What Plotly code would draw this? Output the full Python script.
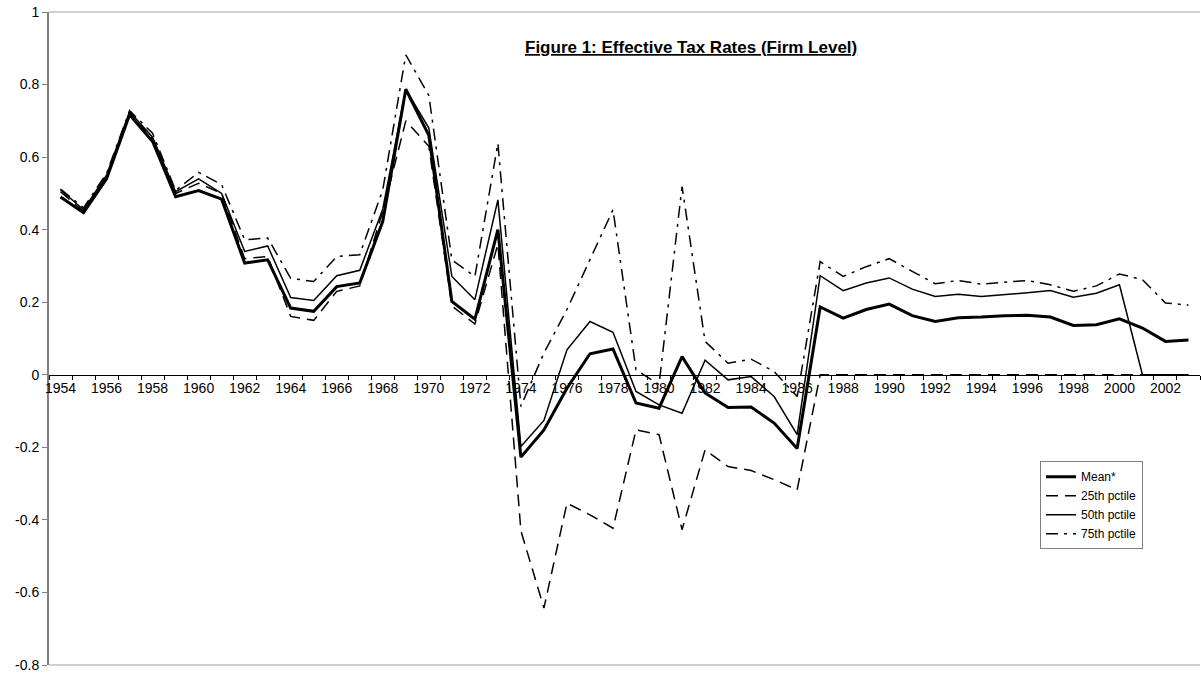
import plotly.graph_objects as go

years = list(range(1954, 2004))

mean = [0.490, 0.447, 0.540, 0.717, 0.643, 0.491, 0.508, 0.484, 0.308, 0.317,
        0.184, 0.175, 0.243, 0.253, 0.423, 0.787, 0.660, 0.202, 0.153, 0.400,
        -0.227, -0.152, -0.037, 0.058, 0.071, -0.078, -0.092, 0.050, -0.050, -0.090,
        -0.089, -0.133, -0.203, 0.187, 0.156, 0.180, 0.195, 0.163, 0.147, 0.157,
        0.159, 0.163, 0.164, 0.159, 0.136, 0.138, 0.154, 0.129, 0.092, 0.096]

p25 = [0.505, 0.450, 0.545, 0.720, 0.650, 0.500, 0.528, 0.500, 0.320, 0.326,
       0.161, 0.150, 0.230, 0.245, 0.450, 0.700, 0.630, 0.190, 0.140, 0.360,
       -0.430, -0.643, -0.354, -0.386, -0.423, -0.152, -0.165, -0.427, -0.207, -0.253,
       -0.264, -0.289, -0.317, 0.000, 0.000, 0.000, 0.000, 0.000, 0.000, 0.000,
       0.000, 0.000, 0.000, 0.000, 0.000, 0.000, 0.000, 0.000, 0.000, 0.000]

p50 = [0.510, 0.455, 0.550, 0.725, 0.655, 0.505, 0.540, 0.500, 0.340, 0.355,
       0.213, 0.205, 0.273, 0.288, 0.457, 0.787, 0.680, 0.271, 0.207, 0.482,
       -0.198, -0.126, 0.069, 0.147, 0.117, -0.046, -0.083, -0.106, 0.040, -0.014,
       -0.005, -0.060, -0.165, 0.273, 0.232, 0.253, 0.267, 0.236, 0.216, 0.222,
       0.216, 0.220, 0.226, 0.232, 0.214, 0.225, 0.248, 0.000, 0.000, 0.000]

p75 = [0.512, 0.460, 0.555, 0.728, 0.666, 0.508, 0.558, 0.524, 0.372, 0.377,
       0.266, 0.257, 0.326, 0.331, 0.510, 0.882, 0.770, 0.317, 0.271, 0.638,
       -0.087, 0.060, 0.180, 0.320, 0.455, 0.014, -0.027, 0.519, 0.092, 0.032,
       0.043, 0.009, -0.060, 0.312, 0.271, 0.298, 0.320, 0.285, 0.251, 0.260,
       0.250, 0.255, 0.260, 0.248, 0.230, 0.245, 0.278, 0.262, 0.198, 0.192]

x_tick_years = list(range(1954, 2004, 2))
x_boundary_ticks = [y - 0.5 for y in range(1954, 2005)]
y_tick_vals = [1, 0.8, 0.6, 0.4, 0.2, 0, -0.2, -0.4, -0.6, -0.8]
y_tick_text = ["1", "0.8", "0.6", "0.4", "0.2", "0", "-0.2", "-0.4", "-0.6", "-0.8"]

FONT = "Arial, 'Liberation Sans', sans-serif"

fig = go.Figure()
fig.add_trace(go.Scatter(x=years, y=mean, mode="lines", name="Mean*",
                         line=dict(color="black", width=3)))
fig.add_trace(go.Scatter(x=years, y=p25, mode="lines", name="25th pctile",
                         line=dict(color="black", width=1.5, dash="12px,7px")))
fig.add_trace(go.Scatter(x=years, y=p50, mode="lines", name="50th pctile",
                         line=dict(color="black", width=1.5)))
fig.add_trace(go.Scatter(x=years, y=p75, mode="lines", name="75th pctile",
                         line=dict(color="black", width=1.5, dash="12px,6px,3px,6px")))

fig.update_layout(
    width=1201, height=677,
    margin=dict(l=49, r=1, t=12, b=12, autoexpand=False),
    paper_bgcolor="white", plot_bgcolor="white",
    font=dict(family=FONT, size=13, color="black"),
    showlegend=True,
    hovermode=False,
    legend=dict(x=0.861, y=0.312, xanchor="left", yanchor="top",
                bordercolor="#808080", borderwidth=1, bgcolor="white",
                font=dict(size=12, family=FONT), itemwidth=30,
                tracegroupgap=0),
    xaxis=dict(range=[1953.5, 2003.5], anchor="free", position=0.8 / 1.8,
               automargin=False,
               showline=True, linecolor="black", linewidth=1,
               tickmode="array", tickvals=x_tick_years,
               ticktext=[str(v) for v in x_tick_years], ticks="",
               showgrid=False, zeroline=False,
               tickfont=dict(size=14, family=FONT),
               minor=dict(tickmode="array", tickvals=x_boundary_ticks,
                          ticks="outside", ticklen=4, tickcolor="black",
                          tickwidth=1, showgrid=False)),
    yaxis=dict(range=[-0.8, 1], automargin=False,
               showline=True, linecolor="#808080", linewidth=2,
               tickmode="array", tickvals=y_tick_vals, ticktext=y_tick_text,
               ticks="outside", ticklen=5, tickcolor="#808080",
               ticklabeloverflow="allow",
               showgrid=False, zeroline=False,
               tickfont=dict(size=14, family=FONT)),
    shapes=[
        dict(type="line", xref="paper", yref="paper", x0=0, x1=1, y0=1, y1=1,
             line=dict(color="#a0a0a0", width=1)),
        dict(type="line", xref="paper", yref="paper", x0=0, x1=1, y0=0, y1=0,
             line=dict(color="#a0a0a0", width=1)),
    ],
    annotations=[
        dict(text="<b><u>Figure 1: Effective Tax Rates (Firm Level)</u></b>",
             xref="paper", yref="paper", x=0.558, y=0.945,
             xanchor="center", yanchor="middle", showarrow=False,
             font=dict(size=17, family=FONT, color="black")),
    ],
)

fig.write_html("out.html",
               config={"displayModeBar": False, "staticPlot": True},
               post_script="document.body.style.margin='0';"
                           "document.body.style.overflow='hidden';")
